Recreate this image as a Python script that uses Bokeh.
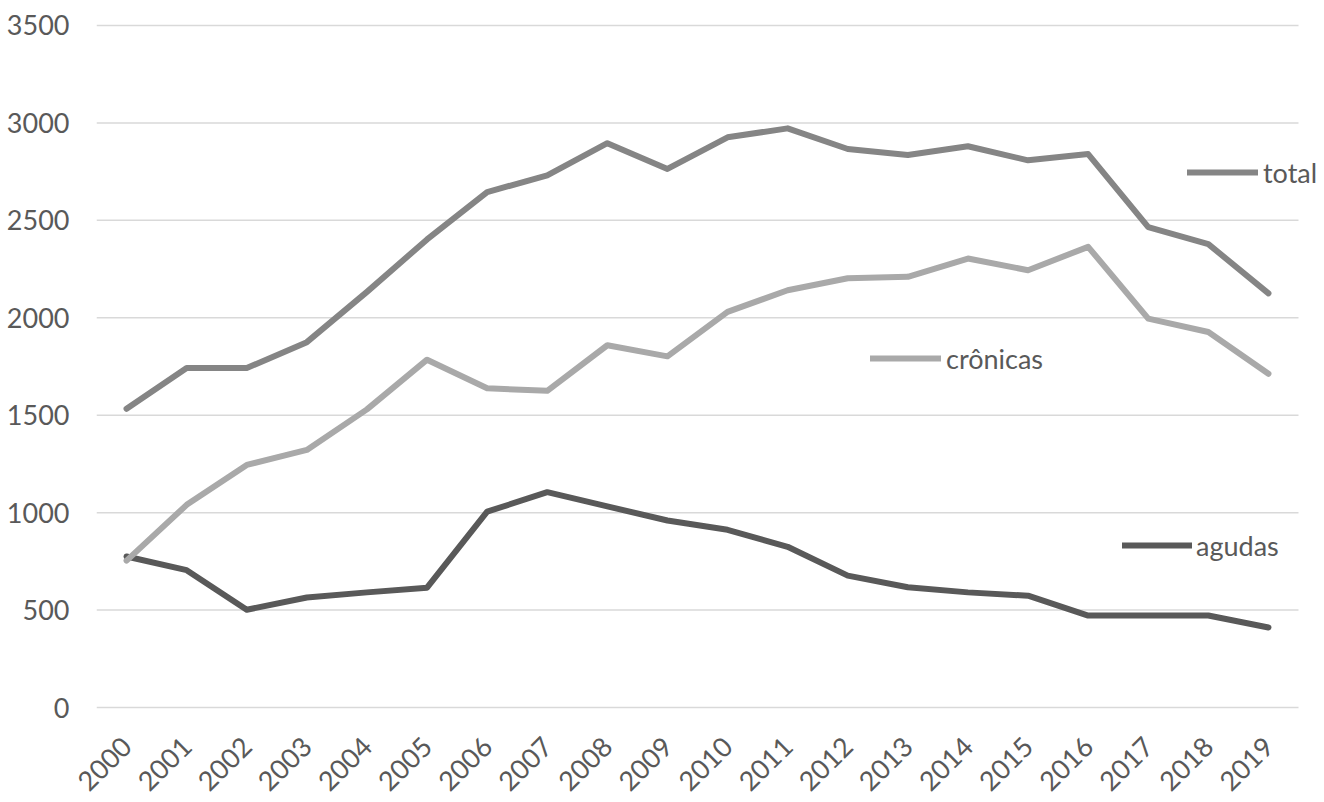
from bokeh.plotting import figure
from bokeh.models import (ColumnDataSource, Range1d, FixedTicker, Legend, LegendItem)
from bokeh.embed import file_html
from bokeh.resources import INLINE
import math

# Annual counts by type
years = list(range(2000, 2020))
agudas = [775, 705, 502, 565, 591, 615, 1005, 1105, 1032, 960, 912, 825, 677, 617, 591, 574, 472, 472, 472, 411]
cronicas = [754, 1040, 1245, 1322, 1530, 1785, 1638, 1625, 1859, 1802, 2030, 2141, 2203, 2210, 2304, 2244, 2364, 1996, 1927, 1713]
total = [1533, 1742, 1742, 1875, 2133, 2402, 2645, 2731, 2896, 2764, 2926, 2972, 2866, 2835, 2880, 2808, 2840, 2465, 2378, 2125]
y_ticks = [0, 500, 1000, 1500, 2000, 2500, 3000, 3500]

FONT = "Lato"
TEXT_COLOR = "#595959"

src = ColumnDataSource(dict(year=years, agudas=agudas, cronicas=cronicas, total=total))

# Frame runs to the right edge so the "total" key is not clipped;
# the gridlines stop half a category after the last year.
x_lo, x_hi = years[0] - 0.5, years[-1] + 0.5
p = figure(
    width=1324, height=802,
    x_range=Range1d(x_lo, x_hi + 26 / 60.1),
    y_range=Range1d(-10, 3510),
    output_backend="svg", toolbar_location=None,
    min_border_left=96, min_border_right=0, min_border_top=23, min_border_bottom=93,
)
p.outline_line_color = None
p.background_fill_color = "white"
p.border_fill_color = "white"

# Horizontal gridlines spanning the category area only
grid = ColumnDataSource(dict(y=y_ticks, x0=[x_lo] * len(y_ticks), x1=[x_hi] * len(y_ticks)))
p.segment(x0="x0", x1="x1", y0="y", y1="y", source=grid, line_color="#d9d9d9", line_width=1.5)

r_ag = p.line("year", "agudas", source=src, line_color="#595959", line_width=6,
              line_join="round", line_cap="round")
r_cr = p.line("year", "cronicas", source=src, line_color="#a9a9a9", line_width=6,
              line_join="round", line_cap="round")
r_to = p.line("year", "total", source=src, line_color="#858585", line_width=6,
              line_join="round", line_cap="round")

# Axes
p.xaxis.ticker = FixedTicker(ticks=years)
p.xaxis.major_label_overrides = {y: str(y) for y in years}
p.yaxis.ticker = FixedTicker(ticks=y_ticks)
p.xgrid.grid_line_color = None
p.ygrid.grid_line_color = None

for ax in (p.xaxis, p.yaxis):
    ax.axis_line_color = None
    ax.major_tick_line_color = None
    ax.minor_tick_line_color = None
    ax.major_tick_in = 0
    ax.major_tick_out = 0
    ax.minor_tick_in = 0
    ax.minor_tick_out = 0
    ax.major_label_text_font = FONT
    ax.major_label_text_font_size = "27px"
    ax.major_label_text_color = TEXT_COLOR

p.yaxis.major_label_standoff = 27
p.xaxis.major_label_orientation = math.pi / 4
p.xaxis.major_label_standoff = 32

# Series keys placed next to each line
def key(renderer, label, vx, vy, gw, standoff):
    lg = Legend(items=[LegendItem(label=label, renderers=[renderer])],
                location=(vx, vy), orientation="vertical",
                padding=0, margin=0, spacing=0,
                glyph_width=gw, glyph_height=34, label_height=34,
                label_standoff=standoff,
                border_line_color=None, background_fill_alpha=0,
                label_text_font=FONT, label_text_font_size="27px",
                label_text_color=TEXT_COLOR)
    p.add_layout(lg, "center")

key(r_to, "total", 1091, 520, 71, 5)
key(r_cr, "crônicas", 774, 334, 71, 5)
key(r_ag, "agudas", 1026, 147, 70, 4)

open("out.html", "w").write(file_html(p, INLINE))
